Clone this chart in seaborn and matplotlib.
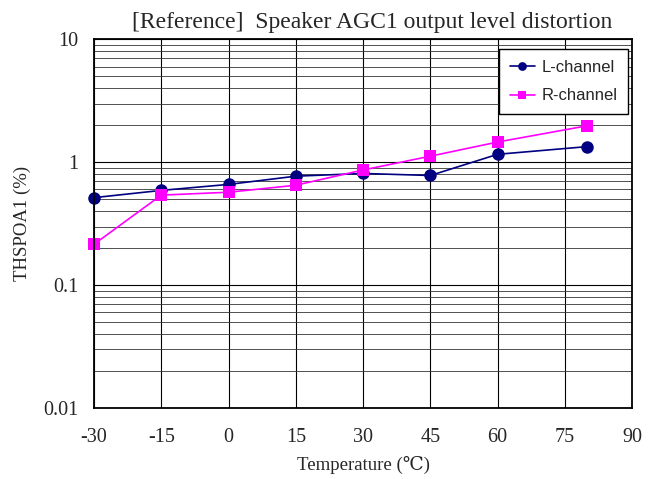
import matplotlib
matplotlib.use("Agg")
import matplotlib.pyplot as plt
from matplotlib.ticker import LogLocator, FixedLocator, NullFormatter, FuncFormatter
import seaborn as sns
import pandas as pd

# temperature points and THD values
temps = [-30, -15, 0, 15, 30, 45, 60, 80]
l_channel = [0.515, 0.59, 0.66, 0.77, 0.81, 0.78, 1.16, 1.34]
r_channel = [0.215, 0.54, 0.57, 0.65, 0.865, 1.12, 1.46, 1.98]
x_ticks = [-30, -15, 0, 15, 30, 45, 60, 75, 90]

df = pd.DataFrame({
    "temp": temps * 2,
    "thd": l_channel + r_channel,
    "ch": ["L-channel"] * len(temps) + ["R-channel"] * len(temps),
})

sns.set_style("white")
plt.rcParams["axes.unicode_minus"] = False
serif = ["Liberation Serif", "DejaVu Serif"]

fig = plt.figure(figsize=(6.62, 4.79), dpi=100)
ax = fig.add_axes([0.142, 0.148, 0.813, 0.770])

sns.lineplot(data=df, x="temp", y="thd", hue="ch", style="ch",
             palette={"L-channel": "#000080", "R-channel": "#ff00ff"},
             markers={"L-channel": "o", "R-channel": "s"}, dashes=False,
             markersize=9, markeredgewidth=0, linewidth=1.2, ax=ax, clip_on=False)

ax.set_yscale("log")
ax.set_ylim(0.01, 10)
ax.set_xlim(-30, 90)
ax.xaxis.set_major_locator(FixedLocator(x_ticks))
ax.yaxis.set_major_locator(LogLocator(base=10, numticks=10))
ax.yaxis.set_minor_locator(LogLocator(base=10, subs=range(2, 10), numticks=20))
ax.yaxis.set_minor_formatter(NullFormatter())
ax.yaxis.set_major_formatter(FuncFormatter(lambda v, p: f"{v:g}"))

ax.grid(True, which="major", axis="both", color="black", linewidth=0.8)
ax.grid(True, which="minor", axis="y", color="#333333", linewidth=0.6)
for s in ax.spines.values():
    s.set_color("black")
    s.set_linewidth(1.3)
ax.tick_params(axis="both", which="both", length=0, labelsize=14.5)
ax.tick_params(axis="x", pad=14)
ax.tick_params(axis="y", pad=11)
for lab in ax.get_xticklabels() + ax.get_yticklabels():
    lab.set_family(serif)

ax.set_xlabel("Temperature (℃)", family=serif, fontsize=13.5, labelpad=7)
ax.set_ylabel("THSPOA1 (%)", family=serif, fontsize=13.5, labelpad=9)
ax.set_title("[Reference]  Speaker AGC1 output level distortion",
             family=serif, fontsize=17, pad=8, x=0.517)

leg = ax.legend(loc="upper right", bbox_to_anchor=(0.993, 0.973), borderaxespad=0,
                fancybox=False, framealpha=1, edgecolor="black",
                prop={"family": "Liberation Sans", "size": 12},
                handlelength=1.5, handletextpad=0.4, borderpad=0.65, labelspacing=0.8,
                markerscale=0.7)
leg.get_frame().set_linewidth(1.0)

fig.savefig("out.png", dpi=100)
